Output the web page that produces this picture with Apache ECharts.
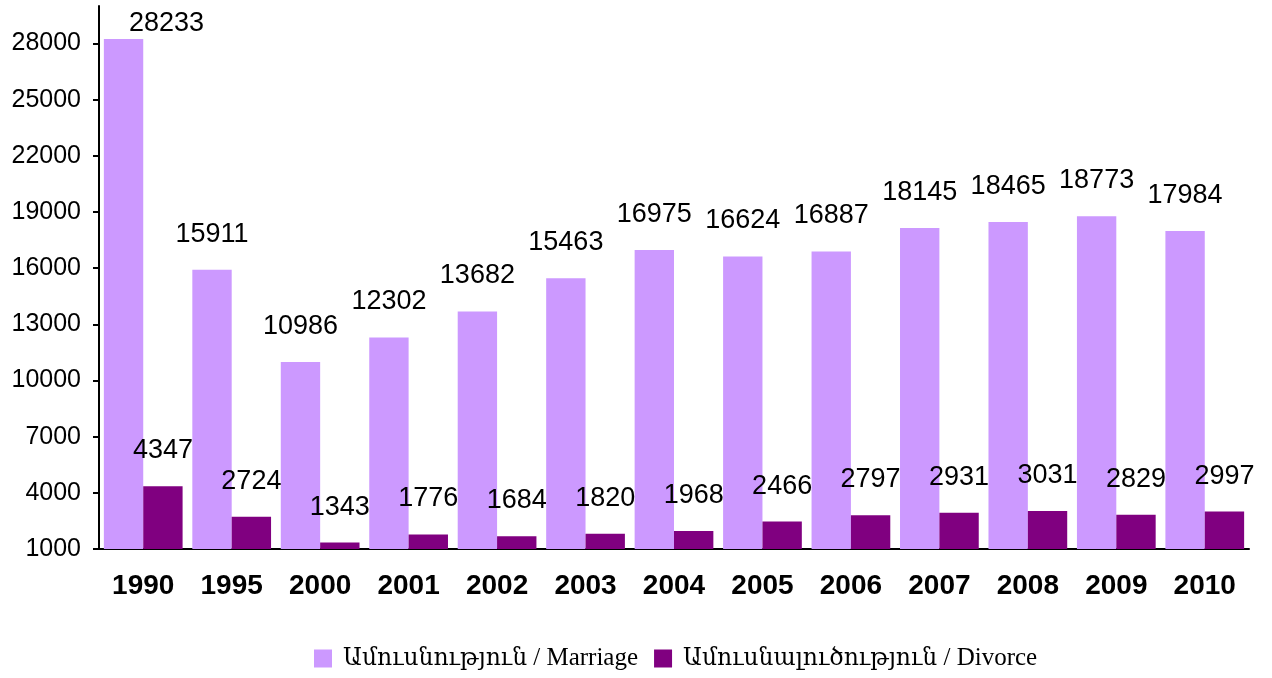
<!DOCTYPE html>
<html>
<head>
<meta charset="utf-8">
<script src="https://cdn.jsdelivr.net/npm/echarts@6/dist/echarts.min.js"></script>
<style>
  html, body { margin: 0; padding: 0; background: #fff; }
  #root { width: 1272px; height: 678px; }
</style>
</head>
<body>
<div id="root"></div>
<script>
const years = ['1990', '1995', '2000', '2001', '2002', '2003', '2004', '2005', '2006', '2007', '2008', '2009', '2010'];
const marriage = [28233, 15911, 10986, 12302, 13682, 15463, 16975, 16624, 16887, 18145, 18465, 18773, 17984];
const divorce = [4347, 2724, 1343, 1776, 1684, 1820, 1968, 2466, 2797, 2931, 3031, 2829, 2997];
const names = ['Ամուսնություն / Marriage', 'Ամուսնալուծություն / Divorce'];

const myChart = echarts.init(document.getElementById('root'));

const labelStyle = {
  show: true,
  position: 'top',
  distance: 22,
  color: '#000',
  fontFamily: 'Liberation Sans, Arial, sans-serif',
  fontSize: 27
};

// the tallest bar's label is nudged down-right so it stays inside the picture
const marriageData = marriage.map((v, i) => i === 0 ? { value: v, label: { offset: [43, 20] } } : v);

const serif = 'Liberation Serif, DejaVu Serif, serif';

const option = {
  animation: false,
  grid: { left: 99, right: 23, top: 6, bottom: 129 },
  legend: {
    data: names,
    top: 646,
    left: 314,
    padding: 0,
    icon: 'rect',
    itemWidth: 18,
    itemHeight: 18,
    itemGap: 16,
    formatter: name => {
      const [arm, lat] = name.split(' / ');
      return `{arm|${arm}}{lat| / ${lat}}`;
    },
    textStyle: {
      color: '#000',
      padding: [0, 0, 0, 6],
      rich: {
        arm: { fontFamily: serif, fontSize: 23.4, color: '#000' },
        lat: { fontFamily: serif, fontSize: 25, color: '#000' }
      }
    }
  },
  xAxis: {
    type: 'category',
    data: years,
    axisLine: { lineStyle: { color: '#000', width: 2 } },
    axisTick: { length: 6, lineStyle: { color: '#000', width: 2 } },
    axisLabel: { margin: 23, color: '#000', fontWeight: 'bold', fontSize: 28, fontFamily: 'Liberation Sans, Arial, sans-serif' }
  },
  yAxis: {
    type: 'value',
    min: 1000,
    max: 30000,
    interval: 3000,
    splitLine: { show: false },
    axisLine: { show: true, lineStyle: { color: '#000', width: 2 } },
    axisTick: { show: true, length: 6, lineStyle: { color: '#000', width: 2 } },
    axisLabel: {
      margin: 18,
      showMaxLabel: false,
      color: '#000',
      fontSize: 25,
      fontFamily: 'Liberation Sans, Arial, sans-serif',
      formatter: v => String(v)
    }
  },
  series: [
    {
      name: names[0],
      type: 'bar',
      data: marriageData,
      barGap: '0%',
      barCategoryGap: '11%',
      itemStyle: { color: '#CC99FF' },
      label: labelStyle
    },
    {
      name: names[1],
      type: 'bar',
      data: divorce,
      itemStyle: { color: '#800080' },
      label: labelStyle
    }
  ]
};

myChart.setOption(option);
</script>
</body>
</html>
